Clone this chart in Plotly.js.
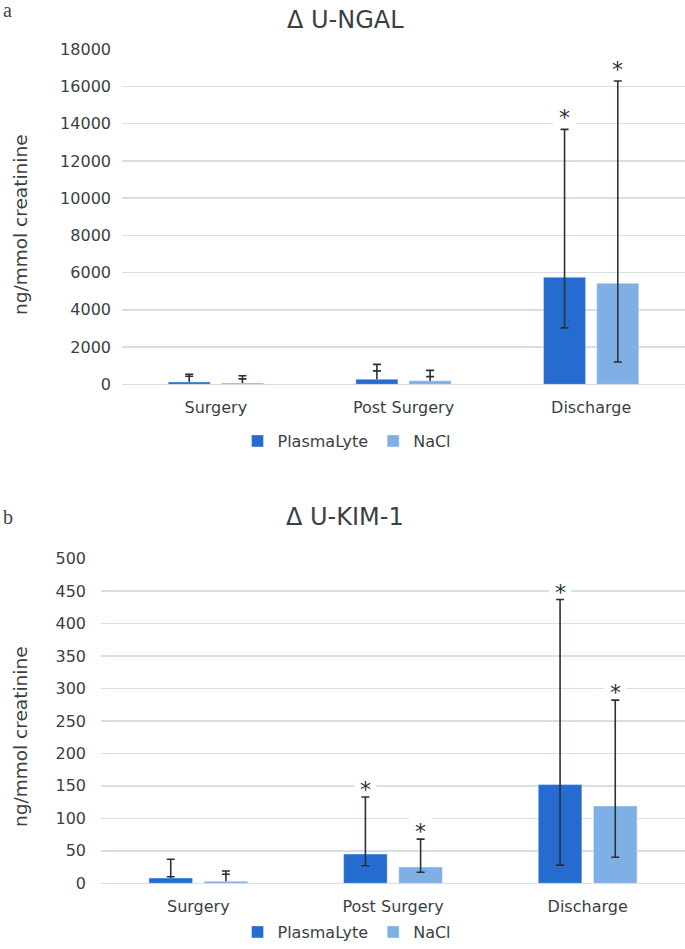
<!DOCTYPE html>
<html><head><meta charset="utf-8">
<script src="https://cdn.plot.ly/plotly-3.0.1.min.js"></script>
<style>html,body{margin:0;padding:0;background:#fff}#chart{width:685px;height:949px}</style>
</head><body><div id="chart"></div>
<script>
// ---------- data ----------
const categories = ['Surgery', 'Post Surgery', 'Discharge'];
const seriesNames = ['PlasmaLyte', 'NaCl'];

// Panel a: Δ U-NGAL (ng/mmol creatinine)
const ngalPlasma      = [120, 270, 5750];
const ngalPlasmaHigh  = [540, 1070, 13700];
const ngalPlasmaLow   = [430, 720, 3030];
const ngalNaCl        = [70, 190, 5430];
const ngalNaClHigh    = [460, 750, 16300];
const ngalNaClLow     = [290, 410, 1200];
const ngalSigPlasma   = [false, false, true];
const ngalSigNaCl     = [false, false, true];

// Panel b: Δ U-KIM-1 (ng/mmol creatinine)
const kimPlasma       = [8, 45, 152];
const kimPlasmaHigh   = [37, 133, 437];
const kimPlasmaLow    = [10, 27, 28];
const kimNaCl         = [3, 25, 119];
const kimNaClHigh     = [19, 68, 282];
const kimNaClLow      = [14, 17, 40];
const kimSigPlasma    = [false, true, true];
const kimSigNaCl      = [false, true, true];

const panelTitles = ['Δ U-NGAL', 'Δ U-KIM-1'];
const panelLetters = ['a', 'b'];
const yTitle = 'ng/mmol creatinine';

// ---------- style ----------
const FONT = 'DejaVu Sans, Verdana, sans-serif';
const TXT = '#3a3f44';
const GRID = '#d9dfdf';
const ERR = '#263238';
const COLORS = ['#266cd0', '#7fb0e5'];
const BARGAP = 0.433, BARGROUPGAP = 0.21;
const OFF = (1 - BARGAP) / 4;

const traces = [];
const annotations = [];
const shapes = [];

function addSeries(idx, vals, hi, lo, sig, xa, ya, legend, starShift) {
  const group = 'g' + idx + xa;
  traces.push({
    type: 'bar', x: categories, y: vals, name: seriesNames[idx],
    xaxis: xa, yaxis: ya, legend: legend, offsetgroup: group,
    marker: {color: COLORS[idx], line: {color: 'rgba(255,255,255,0.35)', width: 1}},
    error_y: {type: 'data', symmetric: false,
      array: vals.map((v, i) => hi[i] - v),
      arrayminus: vals.map((v, i) => v - lo[i]),
      color: ERR, thickness: 1.6, width: 4},
    hoverinfo: 'x+y'
  });
  // stem from bar top to a lower whisker lying above the bar
  traces.push({
    type: 'bar', x: categories, y: vals, showlegend: false,
    xaxis: xa, yaxis: ya, legend: legend, offsetgroup: group,
    marker: {color: 'rgba(0,0,0,0)'},
    error_y: {type: 'data', symmetric: false,
      array: vals.map((v, i) => Math.max(lo[i] - v, 0)),
      arrayminus: vals.map(() => 0),
      color: ERR, thickness: 1.6, width: 0},
    hoverinfo: 'skip'
  });
  sig.forEach((s, i) => {
    if (!s) return;
    const xpos = i + (idx === 0 ? -OFF : OFF);
    annotations.push({xref: xa, yref: ya, x: xpos, y: hi[i], text: '*', showarrow: false,
      xanchor: 'center', yanchor: 'bottom', yshift: starShift,
      font: {family: FONT, size: 22, color: ERR}});
    shapes.push({type: 'rect', xref: xa, yref: ya, xsizemode: 'pixel', ysizemode: 'pixel',
      xanchor: xpos, yanchor: hi[i], x0: -11, x1: 11, y0: 5, y1: 24,
      fillcolor: '#ffffff', line: {width: 0}, layer: 'between'});
  });
}

addSeries(0, ngalPlasma, ngalPlasmaHigh, ngalPlasmaLow, ngalSigPlasma, 'x', 'y', 'legend', -3);
addSeries(1, ngalNaCl, ngalNaClHigh, ngalNaClLow, ngalSigNaCl, 'x', 'y', 'legend', -3);
addSeries(0, kimPlasma, kimPlasmaHigh, kimPlasmaLow, kimSigPlasma, 'x2', 'y2', 'legend2', -7);
addSeries(1, kimNaCl, kimNaClHigh, kimNaClLow, kimSigNaCl, 'x2', 'y2', 'legend2', -7);

const H = 949, W = 685;
// titles
annotations.push({xref: 'paper', yref: 'paper', x: 345 / W, y: 1 - 20 / H, text: panelTitles[0],
  showarrow: false, xanchor: 'center', yanchor: 'middle', font: {family: FONT, size: 24, color: TXT}});
annotations.push({xref: 'paper', yref: 'paper', x: 345 / W, y: 1 - 517 / H, text: panelTitles[1],
  showarrow: false, xanchor: 'center', yanchor: 'middle', font: {family: FONT, size: 24, color: TXT}});
// y axis titles
annotations.push({xref: 'paper', yref: 'paper', x: 20 / W, y: 1 - 225 / H, text: yTitle, textangle: -90,
  showarrow: false, xanchor: 'center', yanchor: 'middle', font: {family: FONT, size: 18.5, color: TXT}});
annotations.push({xref: 'paper', yref: 'paper', x: 20 / W, y: 1 - 737 / H, text: yTitle, textangle: -90,
  showarrow: false, xanchor: 'center', yanchor: 'middle', font: {family: FONT, size: 18.5, color: TXT}});
// panel letters
annotations.push({xref: 'paper', yref: 'paper', x: 1 / W, y: 1 - 10 / H, text: panelLetters[0],
  showarrow: false, xanchor: 'left', yanchor: 'middle', font: {family: 'Liberation Serif, serif', size: 20, color: '#444'}});
annotations.push({xref: 'paper', yref: 'paper', x: 1 / W, y: 1 - 517 / H, text: panelLetters[1],
  showarrow: false, xanchor: 'left', yanchor: 'middle', font: {family: 'Liberation Serif, serif', size: 20, color: '#444'}});

const xCommon = {type: 'category', range: [-0.5, 2.5], showgrid: false, showline: false, zeroline: false,
  ticks: '', tickfont: {family: FONT, size: 16, color: TXT}, ticklabelstandoff: 12, fixedrange: true};
const yCommon = {showgrid: true, gridcolor: GRID, gridwidth: 1.5, zeroline: true, zerolinecolor: GRID,
  zerolinewidth: 1.5, showline: false, ticks: '', tickformat: 'd', tick0: 0,
  tickfont: {family: FONT, size: 16, color: TXT}, fixedrange: true};

const layout = {
  width: W, height: H, margin: {l: 0, r: 0, t: 0, b: 0},
  paper_bgcolor: '#fff', plot_bgcolor: '#fff',
  barmode: 'group', bargap: BARGAP, bargroupgap: BARGROUPGAP,
  font: {family: FONT, size: 16, color: TXT},
  xaxis: Object.assign({}, xCommon, {domain: [122 / W, 1], anchor: 'y'}),
  yaxis: Object.assign({}, yCommon, {domain: [1 - 384.3 / H, 1 - 49.3 / H], anchor: 'x', range: [0, 18000], dtick: 2000, ticklabelstandoff: 10}),
  xaxis2: Object.assign({}, xCommon, {domain: [101 / W, 1], anchor: 'y2'}),
  yaxis2: Object.assign({}, yCommon, {domain: [1 - 883.3 / H, 1 - 558.6 / H], anchor: 'x2', range: [0, 500], dtick: 50, ticklabelstandoff: 14}),
  legend: {orientation: 'h', x: 347 / W, xanchor: 'center', y: 1 - 441 / H, yanchor: 'middle',
    font: {family: FONT, size: 16, color: TXT}, bgcolor: 'rgba(0,0,0,0)', traceorder: 'normal'},
  legend2: {orientation: 'h', x: 347 / W, xanchor: 'center', y: 0, yanchor: 'bottom',
    font: {family: FONT, size: 16, color: TXT}, bgcolor: 'rgba(0,0,0,0)', traceorder: 'normal'},
  annotations: annotations,
  shapes: shapes,
  showlegend: true
};

Plotly.newPlot('chart', traces, layout, {displayModeBar: false, staticPlot: true});
</script>
</body></html>
